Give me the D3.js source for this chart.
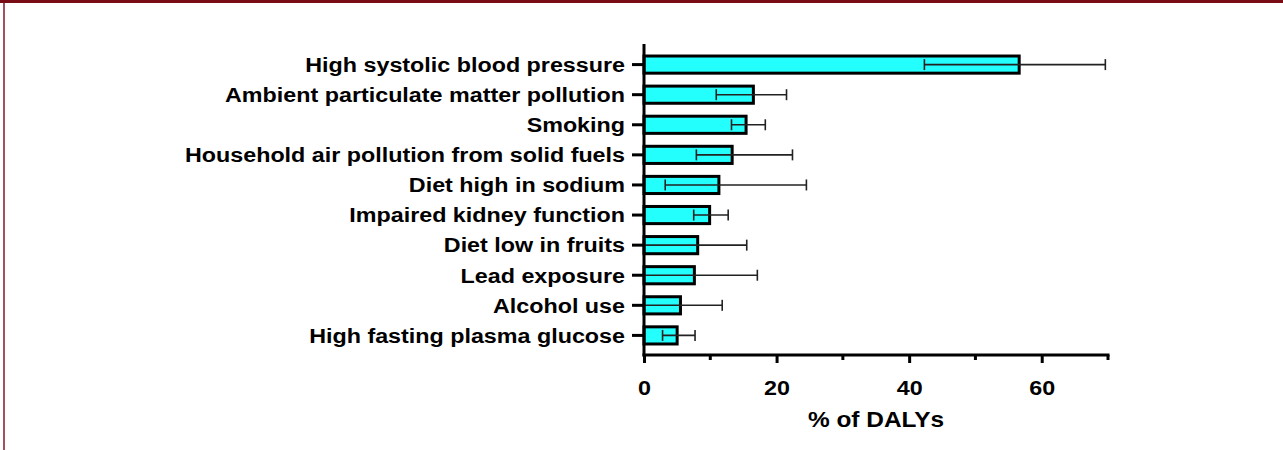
<!DOCTYPE html>
<html>
<head>
<meta charset="utf-8">
<script src="https://cdn.jsdelivr.net/npm/d3@7"></script>
<style>
  body { margin: 0; background: #fff; }
  #chart { width: 1283px; height: 450px; }
</style>
</head>
<body>
<div id="chart"></div>
<script>
//data
var risks = ["High systolic blood pressure", "Ambient particulate matter pollution", "Smoking",
  "Household air pollution from solid fuels", "Diet high in sodium", "Impaired kidney function",
  "Diet low in fruits", "Lead exposure", "Alcohol use", "High fasting plasma glucose"];
var values = [56.6, 16.5, 15.4, 13.3, 11.3, 9.9, 8.1, 7.6, 5.5, 5.0];
var lower = [42.3, 10.9, 13.2, 7.9, 3.2, 7.5, 0, 0, 0, 2.8];
var upper = [69.6, 21.5, 18.3, 22.4, 24.5, 12.7, 15.5, 17.1, 11.8, 7.7];
var xTicks = [0, 20, 40, 60];
var xMinorTicks = [10, 30, 50, 70];

var width = 1283, height = 450;
var stretch = 1.11; //text in the picture is a bit wider than Arial

var svg = d3.select('#chart')
  .append('svg')
  .attr('width', width)
  .attr('height', height);

//frame: dark red top strip and thin left line
svg.append('rect')
  .attr('x', 0).attr('y', 0)
  .attr('width', width).attr('height', 3)
  .style('fill', '#7a0c16');
svg.append('rect')
  .attr('x', 3).attr('y', 3)
  .attr('width', 2).attr('height', height - 3)
  .style('fill', '#a0525f');

var x = d3.scaleLinear()
  .domain([0, 70])
  .range([644, 1108]);

var y = d3.scaleBand()
  .domain(risks)
  .range([50, 350])
  .paddingInner(0.43)
  .paddingOuter(0.2);

var data = risks.map(function(r, i) {
  return {risk: r, value: values[i], lo: lower[i], hi: upper[i]};
});

//bars
svg.selectAll('.bar')
  .data(data)
  .enter()
  .append('rect')
  .attr('class', 'bar')
  .attr('x', x(0))
  .attr('y', function(d) { return y(d.risk); })
  .attr('width', function(d) { return x(d.value) - x(0); })
  .attr('height', y.bandwidth())
  .style('fill', '#22fffc')
  .style('stroke', '#000')
  .style('stroke-width', 3);

//error bars
var err = svg.selectAll('.err')
  .data(data)
  .enter()
  .append('g')
  .attr('class', 'err')
  .style('stroke', '#222')
  .style('stroke-width', 1.6);

err.append('line')
  .attr('x1', function(d) { return x(d.lo); })
  .attr('x2', function(d) { return x(d.hi); })
  .attr('y1', function(d) { return y(d.risk) + y.bandwidth() / 2; })
  .attr('y2', function(d) { return y(d.risk) + y.bandwidth() / 2; });

err.append('line')
  .attr('x1', function(d) { return x(d.hi); })
  .attr('x2', function(d) { return x(d.hi); })
  .attr('y1', function(d) { return y(d.risk) + y.bandwidth() / 2 - 5.5; })
  .attr('y2', function(d) { return y(d.risk) + y.bandwidth() / 2 + 5.5; });

err.filter(function(d) { return d.lo > 0; })
  .append('line')
  .attr('x1', function(d) { return x(d.lo); })
  .attr('x2', function(d) { return x(d.lo); })
  .attr('y1', function(d) { return y(d.risk) + y.bandwidth() / 2 - 5.5; })
  .attr('y2', function(d) { return y(d.risk) + y.bandwidth() / 2 + 5.5; });

//y axis
var yAxis = svg.append('g')
  .attr('transform', 'translate(' + x(0) + ',0)')
  .call(d3.axisLeft(y).tickSize(12).tickPadding(7).tickSizeOuter(0));
yAxis.select('.domain').remove();
yAxis.append('line')
  .attr('x1', 0).attr('x2', 0)
  .attr('y1', 44).attr('y2', 356.5)
  .style('stroke', '#000').style('stroke-width', 3);
yAxis.selectAll('.tick line').style('stroke', '#000').style('stroke-width', 3);
yAxis.selectAll('.tick text')
  .attr('x', -19 / stretch)
  .attr('dy', '0.35em')
  .attr('transform', 'scale(' + stretch + ',1)')
  .style('font-family', 'Liberation Sans, Arial, sans-serif')
  .style('font-weight', 'bold')
  .style('font-size', '21px')
  .style('fill', '#000');

//x axis
var xAxis = svg.append('g')
  .attr('transform', 'translate(0,355)')
  .call(d3.axisBottom(x).tickValues(xTicks).tickSize(8).tickPadding(17).tickSizeOuter(0));
xAxis.select('.domain').remove();
xAxis.append('line')
  .attr('x1', x(0) - 1.5).attr('x2', x(70) + 1.5)
  .attr('y1', 0).attr('y2', 0)
  .style('stroke', '#000').style('stroke-width', 3);
xAxis.selectAll('.tick line').style('stroke', '#000').style('stroke-width', 3);
xAxis.selectAll('.tick text')
  .attr('transform', 'scale(' + stretch + ',1)')
  .style('font-family', 'Liberation Sans, Arial, sans-serif')
  .style('font-weight', 'bold')
  .style('font-size', '21px')
  .style('fill', '#000');

//minor ticks
xAxis.selectAll('.minor')
  .data(xMinorTicks)
  .enter()
  .append('line')
  .attr('x1', function(d) { return x(d); })
  .attr('x2', function(d) { return x(d); })
  .attr('y1', 0).attr('y2', 5)
  .style('stroke', '#000').style('stroke-width', 3);

//axis title
svg.append('text')
  .attr('transform', 'translate(' + ((x(0) + x(70)) / 2) + ',427) scale(' + stretch + ',1)')
  .attr('text-anchor', 'middle')
  .style('font-family', 'Liberation Sans, Arial, sans-serif')
  .style('font-weight', 'bold')
  .style('font-size', '22px')
  .text('% of DALYs');
</script>
</body>
</html>
